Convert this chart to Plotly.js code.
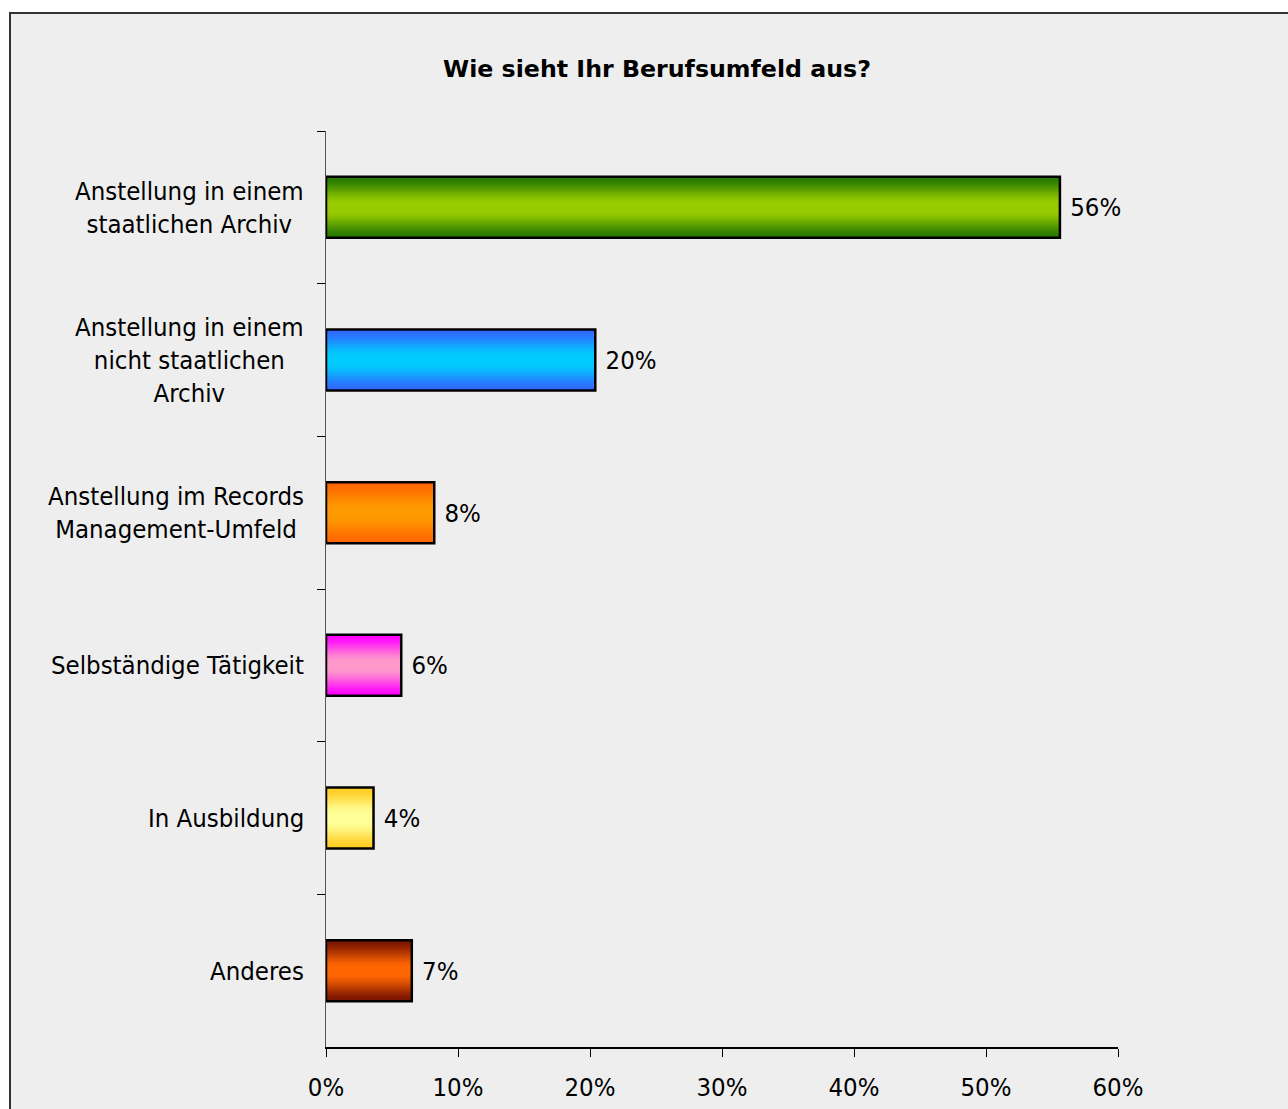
<!DOCTYPE html>
<html>
<head>
<meta charset="utf-8">
<script src="https://cdn.plot.ly/plotly-3.0.1.min.js"></script>
<style>
  html, body { margin: 0; padding: 0; background: #ffffff; overflow: hidden; width: 1288px; height: 1109px; }
  #frame { position: absolute; left: 9px; top: 12px; width: 1290px; height: 1110px;
           border-left: 2px solid #333; border-top: 2px solid #333; background: #eeeeee; overflow: hidden; }
  #chart { width: 1277px; height: 1095px; }
</style>
</head>
<body>
<div id="frame"><div id="chart"></div></div>
<script>
// ---- data ----
const categories = [
  "Anstellung in einem<br>staatlichen Archiv",
  "Anstellung in einem<br>nicht staatlichen<br>Archiv",
  "Anstellung im Records<br>Management-Umfeld",
  "Selbständige Tätigkeit",
  "In Ausbildung",
  "Anderes"
];
const values = [0.556, 0.204, 0.082, 0.057, 0.036, 0.065];
const edgeColors   = ["#267800", "#3366ff", "#ff6600", "#ff00ff", "#ffcc22", "#7a1400"];
const centerColors = ["#99cc00", "#00ccff", "#ff9900", "#ff99cc", "#ffff99", "#ff6600"];
const titleText = "Wie sieht Ihr Berufsumfeld aus?";
const xTickVals = [0, 0.1, 0.2, 0.3, 0.4, 0.5, 0.6];

// ---- helpers ----
function hex2rgb(h) { h = h.replace('#',''); return [0,2,4].map(i => parseInt(h.substr(i,2),16)); }
function mix(a, b, t) {
  const A = hex2rgb(a), B = hex2rgb(b);
  return 'rgb(' + A.map((v,i) => Math.round(v + (B[i]-v)*t)).join(',') + ')';
}

const barWidth = 0.4;
const layers = 24;
const traces = [];
for (let i = 0; i < layers; i++) {
  const f = i / layers;                 // 0 at edge, ->1 at centre
  let t = Math.min(1, f / 0.85);
  t = 0.5 - 0.5 * Math.cos(t * Math.PI) * 0.6 + (t - 0.5) * 0.4; // soft ease
  t = Math.max(0, Math.min(1, t));
  traces.push({
    type: 'bar', orientation: 'h',
    y: categories, x: values,
    width: barWidth * (1 - f),
    marker: { color: categories.map((c, k) => mix(edgeColors[k], centerColors[k], t)), line: { width: 0 } },
    hoverinfo: 'skip', showlegend: false
  });
}
const font = 'DejaVu Sans Condensed, DejaVu Sans, sans-serif';
// outline + value labels on top
traces.push({
  type: 'bar', orientation: 'h',
  y: categories, x: values,
  width: barWidth,
  marker: { color: 'rgba(0,0,0,0)', line: { color: '#000000', width: 2.5 } },
  texttemplate: '\u00a0%{x:.0%}', textposition: 'outside', cliponaxis: false,
  textfont: { family: font, size: 25.5, color: '#000' },
  hoverinfo: 'skip', showlegend: false
});

const annotations = categories.map(c => ({
  x: 0, xref: 'paper', xanchor: 'right', xshift: -20,
  y: c, yref: 'y', yanchor: 'middle',
  text: c, align: 'center', showarrow: false,
  font: { family: font, size: 25.5, color: '#000' }
}));

const layout = {
  width: 1277, height: 1095,
  margin: { l: 315, r: 170, t: 117, b: 62 },
  paper_bgcolor: '#eeeeee', plot_bgcolor: '#eeeeee',
  barmode: 'overlay',
  title: { text: '<b>' + titleText + '</b>', x: 646/1277, xref: 'container', xanchor: 'center', y: 1 - 55/1095, yanchor: 'middle',
           font: { family: 'DejaVu Sans, sans-serif', size: 23.7, color: '#000' } },
  font: { family: font, color: '#000' },
  xaxis: {
    range: [0, 0.6], tickvals: xTickVals, tickformat: '.0%',
    showgrid: false, zeroline: false,
    showline: true, linecolor: '#000', linewidth: 1.5,
    ticks: 'outside', ticklen: 8, tickcolor: '#000', tickwidth: 1,
    ticklabelstandoff: 9,
    tickfont: { family: font, size: 25.5, color: '#000' },
    fixedrange: true
  },
  yaxis: {
    type: 'category', categoryorder: 'array', categoryarray: categories,
    autorange: 'reversed',
    showticklabels: false, showgrid: false, zeroline: false,
    showline: true, linecolor: '#555', linewidth: 1.5,
    ticks: 'outside', tickson: 'boundaries', ticklen: 8, tickcolor: '#000', tickwidth: 1,
    fixedrange: true
  },
  annotations: annotations
};

Plotly.newPlot('chart', traces, layout, { displayModeBar: false, staticPlot: true });
</script>
</body>
</html>
